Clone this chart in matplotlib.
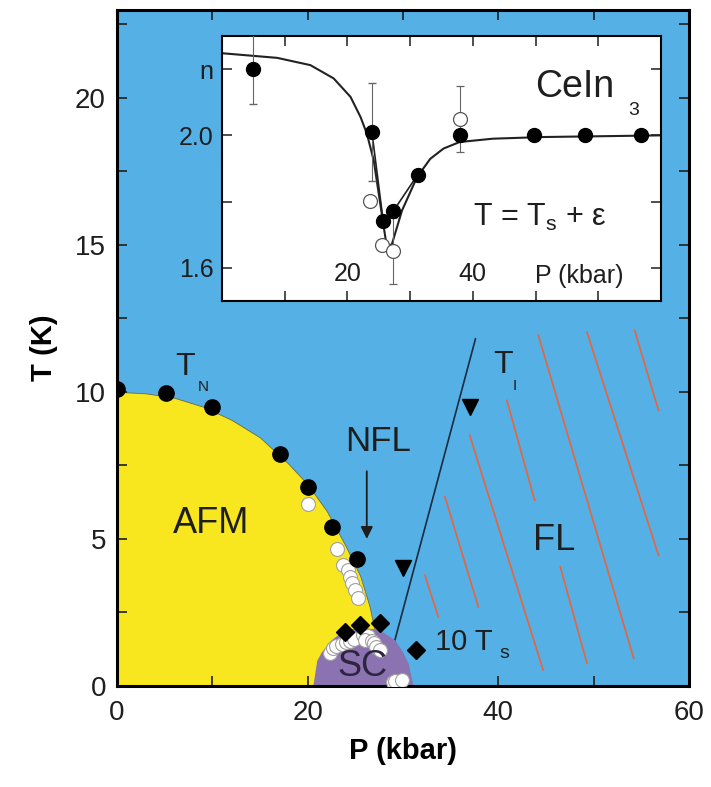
import matplotlib
matplotlib.use('Agg')
from matplotlib import pyplot as plt
from matplotlib.ticker import MultipleLocator, FixedLocator

plt.rcParams['font.family'] = ['Liberation Sans', 'DejaVu Sans']
plt.rcParams['mathtext.fontset'] = 'custom'
plt.rcParams['mathtext.rm'] = 'Liberation Sans'
plt.rcParams['mathtext.it'] = 'Liberation Sans'

BLUE = '#54b0e5'
YELLOW = '#f8e61e'
PURPLE = '#8b72b0'
RED = '#e8643c'
INK = '#1e1e1e'

# --- main panel data (P in kbar, T in K) ---
# Neel temperature T_N (filled circles)
tn_P = [0.0, 5.1, 10.0, 17.1, 20.0, 22.5, 25.2]
tn_T = [10.1, 9.95, 9.47, 7.87, 6.76, 5.4, 4.31]
# open circles (other samples)
open_P = [20.0, 23.1, 23.7, 24.2, 24.4, 24.7, 25.0, 25.3,
          22.3, 22.7, 23.0, 23.6, 24.0, 24.4, 24.9, 25.8, 26.3, 26.0, 26.7, 27.0, 27.2, 27.6,
          29.0, 29.2, 29.9]
open_T = [6.18, 4.65, 4.11, 3.94, 3.70, 3.50, 3.26, 2.99,
          1.12, 1.28, 1.36, 1.43, 1.50, 1.54, 1.60, 1.74, 1.70, 1.55, 1.54, 1.45, 1.34, 1.22,
          0.12, 0.18, 0.20]
# 10 x T_s (diamonds)
ts_P = [23.9, 25.5, 27.6]
ts_T = [1.83, 2.07, 2.14]
# T_I (down triangles) and its line
ti_P = [30.0, 37.0]
ti_T = [4.0, 9.5]
tiline_P = [29.1, 37.6]
tiline_T = [1.5, 11.8]
# AFM phase boundary
afm_P = [0, 3, 6, 9, 12, 15, 18, 20, 22, 24, 25.5, 26.5, 27.2, 27.5]
afm_T = [10.0, 9.95, 9.8, 9.5, 9.05, 8.45, 7.55, 6.85, 5.95, 4.75, 3.75, 2.7, 1.6, 0]
# SC dome (10 x T_s)
sc_P = [20.6, 21.0, 21.5, 22.5, 23.5, 24.5, 25.8, 27.0, 28.0, 29.2, 30.0, 30.6, 31.1]
sc_T = [0, 0.85, 1.15, 1.55, 1.8, 1.93, 1.97, 1.93, 1.8, 1.55, 1.15, 0.75, 0]
# FL hatch strokes
hatch_P0 = [44.2, 49.3, 54.3, 40.9, 37.0, 34.4, 32.3, 46.5]
hatch_T0 = [11.92, 12.03, 12.09, 9.71, 8.52, 6.43, 3.77, 4.05]
hatch_P1 = [54.2, 56.8, 56.8, 43.8, 44.7, 37.9, 33.7, 49.3]
hatch_T1 = [0.94, 4.44, 9.37, 6.32, 0.54, 2.69, 2.35, 0.77]

# --- inset data: exponent n vs P ---
in_P = [4.87, 23.9, 25.7, 27.3, 31.2, 37.9, 49.8, 57.9, 66.8]
in_n = [2.199, 2.010, 1.742, 1.771, 1.881, 2.0, 2.0, 2.0, 2.0]
in_err = [0.103, 0.148, 0, 0, 0, 0, 0, 0, 0]
in_oP = [23.65, 25.5, 27.25, 37.9]
in_on = [1.803, 1.670, 1.652, 2.05]
in_oerr = [0, 0, 0.1, 0.1]
fit_P = [0.0, 8.8, 14.1, 17.8, 20.5, 22.1, 23.1, 24.2, 25.0, 25.8, 26.3, 27.1,
         28.7, 31.1, 33.2, 35.3, 37.9, 43.2, 51.2, 70.0]
fit_n = [2.248, 2.234, 2.212, 2.172, 2.116, 2.055, 2.005, 1.924, 1.823, 1.722,
         1.662, 1.672, 1.773, 1.874, 1.929, 1.960, 1.980, 1.990, 1.995, 2.0]
link_P = [23.9, 25.7, 27.3, 31.2]
link_n = [2.010, 1.742, 1.771, 1.881]

fig = plt.figure(figsize=(7.11, 7.87), dpi=100)
ax = fig.add_axes([117 / 711, 1 - 686 / 787, 572 / 711, 676 / 787])
ax.set_facecolor(BLUE)
ax.set_xlim(0, 60)
ax.set_ylim(0, 22.98)

ax.fill_between(afm_P, afm_T, 0, facecolor=YELLOW, edgecolor='#6a6a40', lw=0.6, zorder=1)
for p0, t0, p1, t1 in zip(hatch_P0, hatch_T0, hatch_P1, hatch_T1):
    ax.plot([p0, p1], [t0, t1], color=RED, lw=1.2, zorder=1.2)
ax.plot(tiline_P, tiline_T, color='#1c2a40', lw=1.2, zorder=1.3)
ax.fill_between(sc_P, sc_T, 0, facecolor=PURPLE, edgecolor='none', zorder=1.4)

ax.plot(open_P, open_T, 'o', ms=10, mfc='white', mec='#a0a0a0', mew=0.8, zorder=3)
ax.plot(tn_P, tn_T, 'o', ms=11, color='black', zorder=4)
ax.plot(ts_P, ts_T, 'D', ms=9, color='black', zorder=4)
ax.plot([31.4], [1.22], 'D', ms=9, color='black', zorder=4)
ax.plot(ti_P, ti_T, 'v', ms=12, color='black', zorder=4)

ax.text(7.1, 10.85, 'T', fontsize=23, color=INK, ha='center', va='center')
ax.text(9.05, 10.17, 'N', fontsize=11, color=INK, ha='center', va='center')
ax.text(9.9, 5.53, 'AFM', fontsize=26, color=INK, ha='center', va='center')
ax.text(27.4, 8.3, 'NFL', fontsize=25, color=INK, ha='center', va='center')
ax.annotate('', xy=(26.2, 5.0), xytext=(26.2, 7.3),
            arrowprops=dict(arrowstyle='-|>', color=INK, lw=1.3,
                            mutation_scale=18, shrinkA=0, shrinkB=0))
ax.text(45.8, 4.96, 'FL', fontsize=26, color=INK, ha='center', va='center')
ax.text(40.5, 10.9, 'T', fontsize=23, color=INK, ha='center', va='center')
ax.text(41.7, 10.2, 'I', fontsize=11, color=INK, ha='center', va='center')
ax.text(33.4, 1.48, '10 T', fontsize=21, color=INK, ha='left', va='center')
ax.text(40.6, 1.12, 's', fontsize=14, color=INK, ha='center', va='center')
ax.text(25.75, 0.66, 'SC', fontsize=26, color='#2e2440', ha='center', va='center')

ax.xaxis.set_major_locator(MultipleLocator(20))
ax.xaxis.set_minor_locator(MultipleLocator(10))
ax.yaxis.set_major_locator(MultipleLocator(5))
ax.yaxis.set_minor_locator(MultipleLocator(2.5))
ax.tick_params(which='both', direction='in', top=True, right=True,
               length=7, width=1.2, labelsize=20, colors=INK)
ax.tick_params(axis='x', pad=10)
ax.tick_params(axis='y', pad=8)
for s in ax.spines.values():
    s.set_linewidth(2.2)
ax.set_xlabel('P (kbar)', fontsize=21, fontweight='bold', labelpad=8)
ax.set_ylabel('T (K)', fontsize=21, fontweight='bold', labelpad=12)

# --- inset ---
ins = fig.add_axes([222 / 711, 1 - 301 / 787, 439 / 711, 265 / 787])
ins.set_facecolor('white')
ins.set_xlim(0, 70)
ins.set_ylim(1.5, 2.3)
ins.plot(fit_P, fit_n, color='#222222', lw=1.5)
ins.plot(link_P, link_n, color='#222222', lw=1.2)
ins.errorbar(in_oP, in_on, yerr=in_oerr, fmt='o', ms=10, mfc='white', mec='#555555',
             mew=0.9, ecolor='#666666', elinewidth=0.8, capsize=3, zorder=3)
ins.errorbar(in_P, in_n, yerr=in_err, fmt='o', ms=10, color='black',
             ecolor='#666666', elinewidth=0.8, capsize=3, zorder=4)
ins.xaxis.set_major_locator(FixedLocator([20, 40]))
ins.xaxis.set_minor_locator(FixedLocator([10, 30, 50, 60]))
ins.yaxis.set_major_locator(FixedLocator([1.6, 1.8, 2.0, 2.2]))
ins.set_yticklabels(['1.6', '', '2.0', 'n'])
ins.tick_params(which='both', direction='in', top=True, right=True,
                length=7, width=1.1, colors=INK)
ins.tick_params(axis='x', labelsize=18, pad=-28)
ins.tick_params(axis='y', labelsize=18, pad=6)
for s in ins.spines.values():
    s.set_linewidth(1.5)
ins.text(57, 1.576, 'P (kbar)', fontsize=18, color=INK, ha='center', va='center')
ins.text(50.0, 2.146, 'CeIn', fontsize=27, color=INK, ha='left', va='center')
ins.text(65.6, 2.075, '3', fontsize=14, color=INK, ha='center', va='center')
ins.text(50.7, 1.752, 'T = T$_\\mathrm{s}$ + ε', fontsize=22, color=INK,
         ha='center', va='center')

fig.savefig('out.png', dpi=100)
